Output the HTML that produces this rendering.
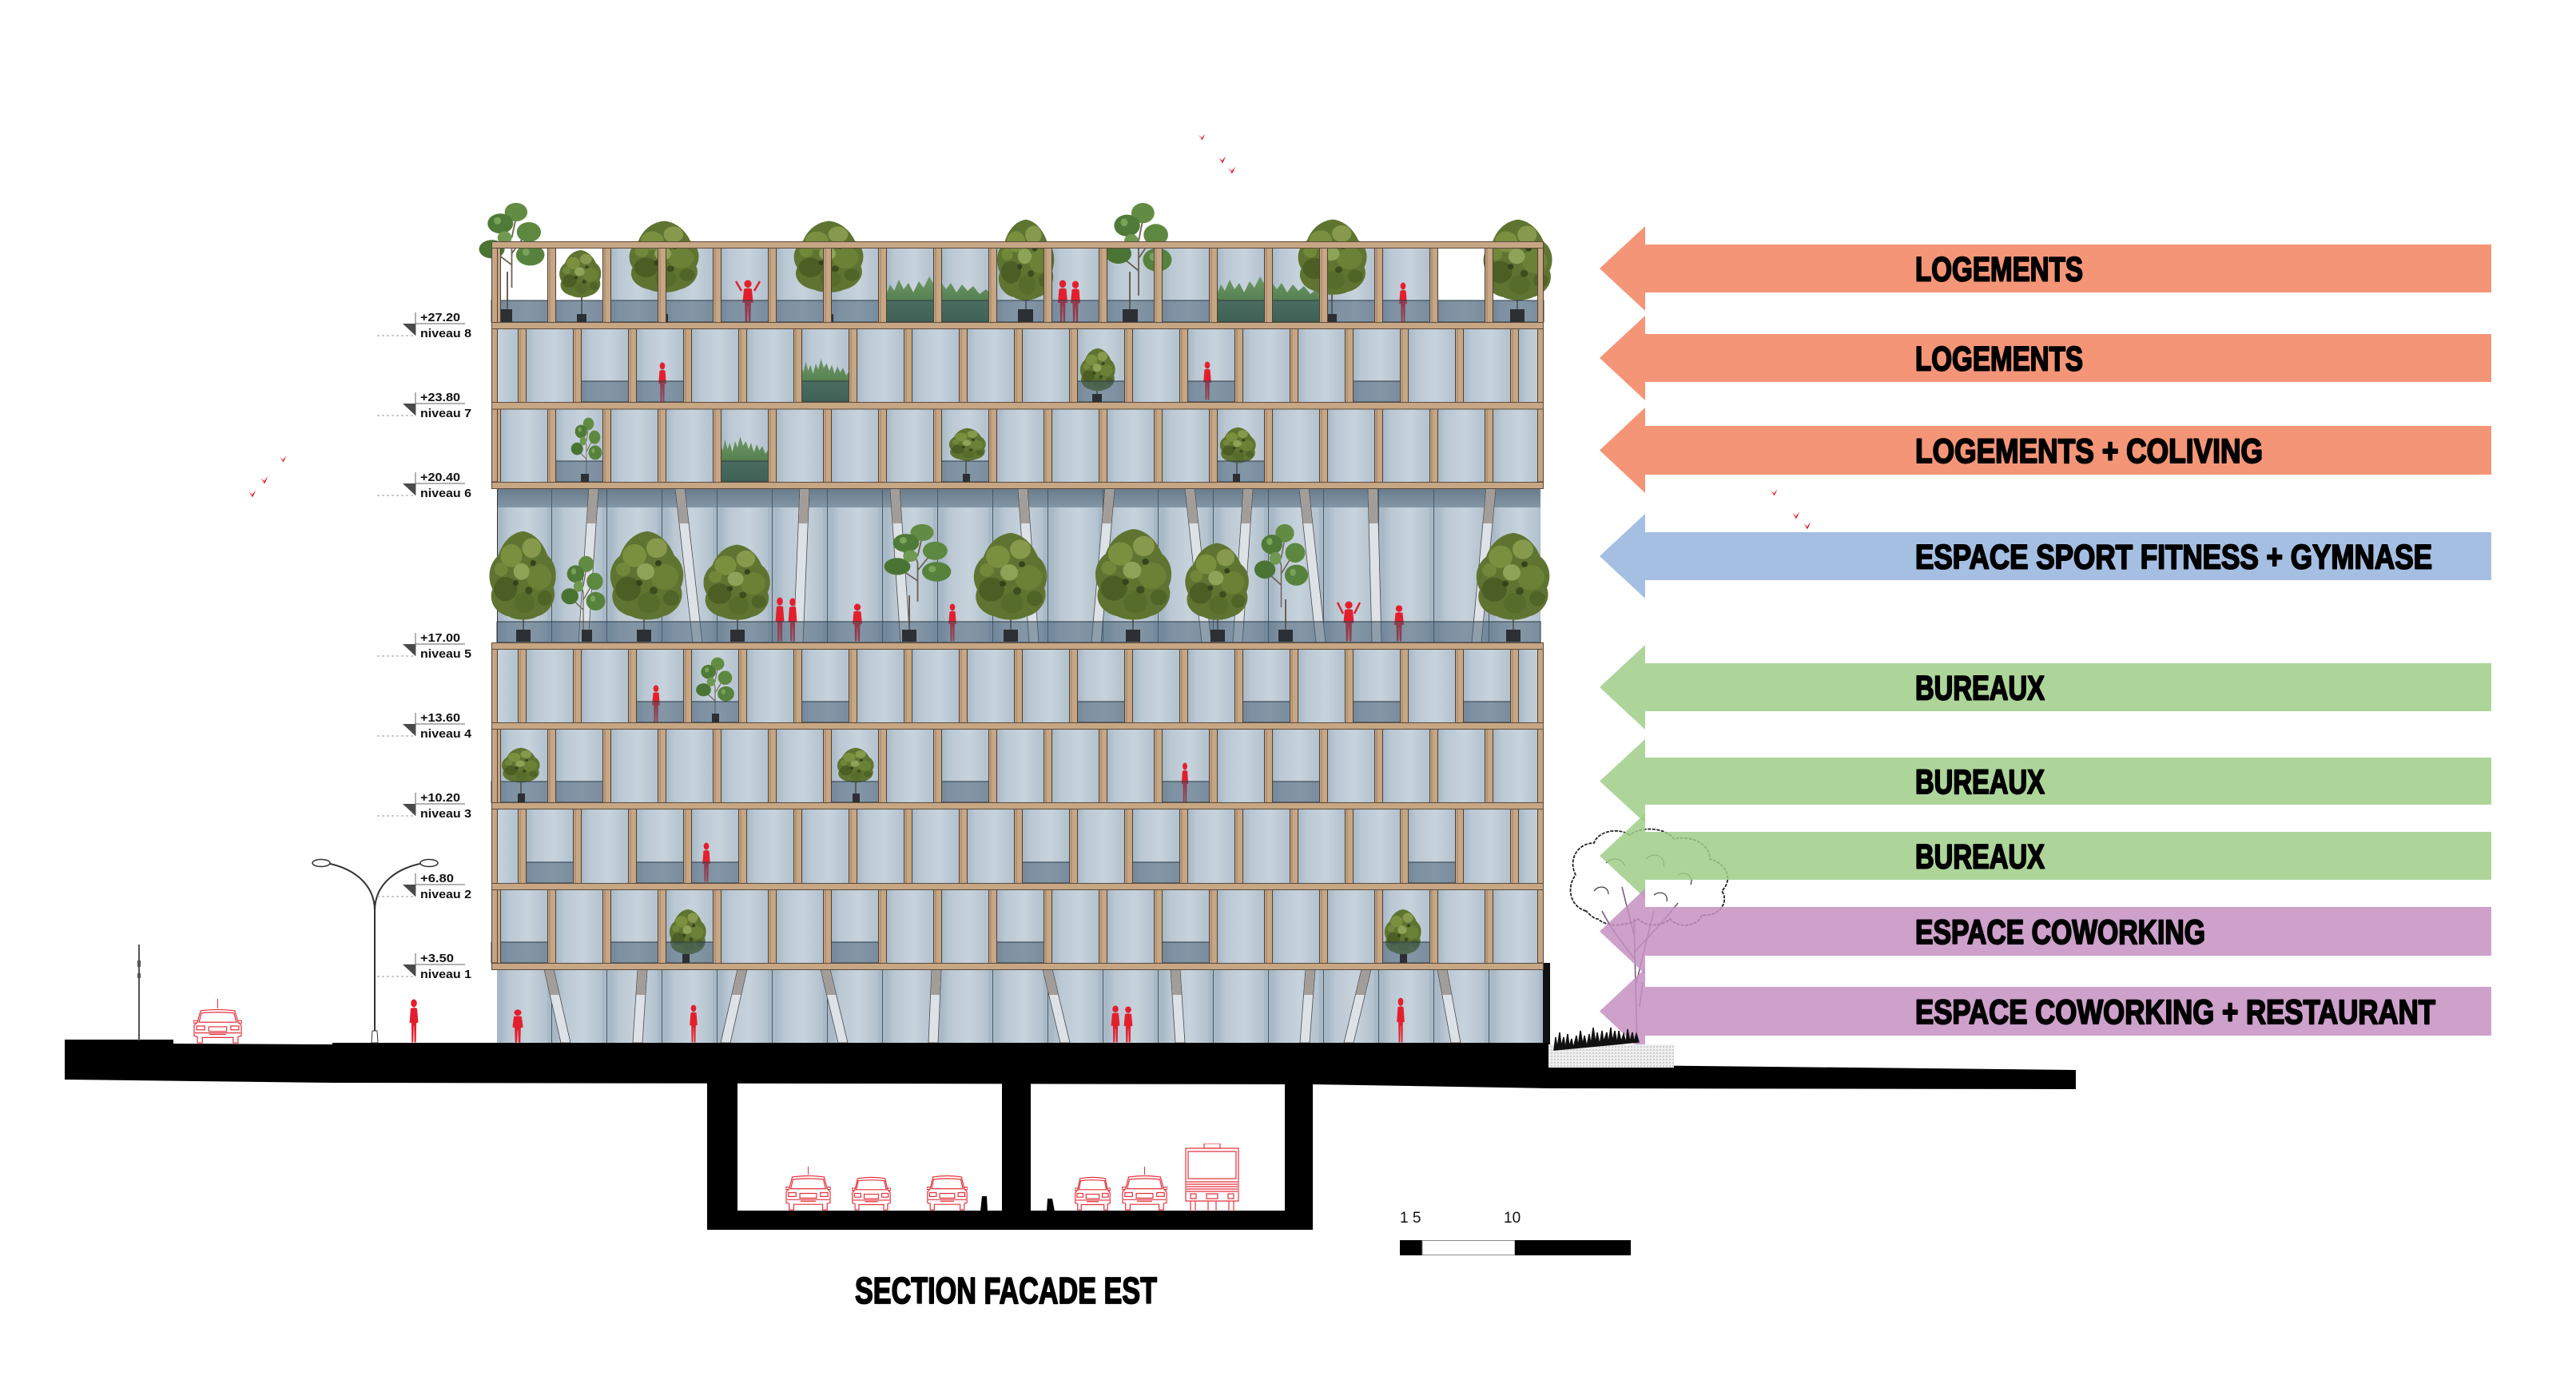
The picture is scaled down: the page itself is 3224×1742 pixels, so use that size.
<!DOCTYPE html>
<html><head><meta charset="utf-8"><style>
html,body{margin:0;padding:0;background:#fff;}
svg{display:block;}
.at{font-family:"Liberation Sans Narrow","Liberation Sans",sans-serif;font-weight:bold;font-size:43px;fill:#000;stroke:#000;stroke-width:2px;stroke-linejoin:round;}
.tt{font-family:"Liberation Sans Narrow","Liberation Sans",sans-serif;font-weight:bold;font-size:46px;fill:#000;stroke:#000;stroke-width:1.8px;stroke-linejoin:round;}
.lv{font-family:"Liberation Sans Narrow","Liberation Sans",sans-serif;font-weight:bold;font-size:15px;fill:#111;}
.sc{font-family:"Liberation Sans Narrow","Liberation Sans",sans-serif;font-size:19px;fill:#111;}
.ln{stroke:#666;stroke-width:1;fill:none;}
.dl{stroke:#9a9a9a;stroke-width:1;stroke-dasharray:3 3;fill:none;}
.rl{fill:#405a70;fill-opacity:.5;stroke:#2e3a44;stroke-width:1;}
.pot{fill:#2c2f33;}
.trk{stroke:#6b6053;stroke-width:2;fill:none;}
.slab{fill:#c7a684;stroke:#5a4a3c;stroke-width:1;}
.col{fill:#dde2e7;stroke:#4a4a4a;stroke-width:.8;}
.colt{fill:#a39d99;}
.car{fill:none;stroke:#e5323c;stroke-width:1.2;}
</style></head><body>
<svg width="3224" height="1742" viewBox="0 0 3224 1742" xmlns="http://www.w3.org/2000/svg">
<defs>
<linearGradient id="gg" x1="0" y1="0" x2="1" y2="0">
<stop offset=".16" stop-color="#a7b8c6"/><stop offset=".3" stop-color="#bac8d4"/><stop offset=".65" stop-color="#c7d3dc"/><stop offset="1" stop-color="#b2c1ce"/>
</linearGradient>
<linearGradient id="fo" x1="0" y1="0" x2="0" y2="1">
<stop offset="0" stop-color="#6f9a66"/><stop offset="1" stop-color="#3e683d"/>
</linearGradient>
<linearGradient id="band" x1="0" y1="0" x2="0" y2="1">
<stop offset="0" stop-color="#687b8b"/><stop offset="1" stop-color="#8396a5"/>
</linearGradient>
<pattern id="glA" patternUnits="userSpaceOnUse" x="685" y="0" width="69" height="1742"><rect width="69" height="1742" fill="url(#gg)"/></pattern>
<pattern id="glB" patternUnits="userSpaceOnUse" x="648" y="0" width="69" height="1742"><rect width="69" height="1742" fill="url(#gg)"/></pattern>
<pattern id="piA" patternUnits="userSpaceOnUse" x="685" y="0" width="69" height="1742">
<rect x="0" width="11" height="1742" fill="#c7a684"/><rect x=".5" width="10" height="1742" fill="none" stroke="#4f4136" stroke-width="1"/><line x1="3" x2="3" y1="0" y2="1742" stroke="#9a7f63" stroke-width="1"/>
</pattern>
<pattern id="piB" patternUnits="userSpaceOnUse" x="648" y="0" width="69" height="1742">
<rect x="0" width="11" height="1742" fill="#c7a684"/><rect x=".5" width="10" height="1742" fill="none" stroke="#4f4136" stroke-width="1"/><line x1="3" x2="3" y1="0" y2="1742" stroke="#9a7f63" stroke-width="1"/>
</pattern>
<pattern id="muA" patternUnits="userSpaceOnUse" x="685" y="0" width="69" height="1742"><line x1="5.5" x2="5.5" y1="0" y2="1742" stroke="#4d5963" stroke-width="1"/></pattern>
<pattern id="dots" patternUnits="userSpaceOnUse" width="4" height="4"><rect width="4" height="4" fill="#eeeeee"/><circle cx="2" cy="2" r=".7" fill="#999"/></pattern>
<symbol id="tr" viewBox="0 0 100 120" preserveAspectRatio="none">
<path d="M50,2 C66,4 78,18 84,34 C96,44 98,62 92,76 C98,92 86,110 70,114 C60,120 40,120 30,114 C12,110 2,94 8,78 C0,62 4,44 16,34 C22,16 34,4 50,2Z" fill="#5f7431"/>
<circle cx="34" cy="34" r="15" fill="#7b903f"/><circle cx="62" cy="24" r="13" fill="#87994c"/>
<circle cx="72" cy="62" r="17" fill="#6b8236"/><circle cx="26" cy="78" r="16" fill="#4b5f25"/>
<circle cx="52" cy="96" r="14" fill="#566c2a"/><circle cx="48" cy="55" r="11" fill="#8ea258"/>
<circle cx="80" cy="90" r="10" fill="#4f6427"/><circle cx="20" cy="52" r="9" fill="#71883a"/>
<circle cx="40" cy="70" r="4" fill="#34441a"/><circle cx="64" cy="44" r="4" fill="#34441a"/><circle cx="58" cy="80" r="5" fill="#3c4d1e"/>
</symbol>
<symbol id="tr2" viewBox="0 0 100 120" preserveAspectRatio="none">
<path d="M50,120 L50,60 L38,28 M50,72 L72,42 M50,88 L26,70 M50,50 L58,12" stroke="#6b6053" stroke-width="2" fill="none"/>
<ellipse cx="56" cy="14" rx="16" ry="13" fill="#628c44"/><ellipse cx="34" cy="30" rx="18" ry="14" fill="#4f7a37"/>
<ellipse cx="74" cy="42" rx="17" ry="14" fill="#5d8840"/><ellipse cx="22" cy="66" rx="18" ry="13" fill="#4a7434"/>
<ellipse cx="76" cy="74" rx="20" ry="15" fill="#57823d"/><ellipse cx="40" cy="50" rx="10" ry="9" fill="#6f9850"/>
<circle cx="30" cy="26" r="5" fill="#7aa35a"/><circle cx="70" cy="70" r="5" fill="#7aa35a"/>
</symbol>
<symbol id="pe" viewBox="0 0 20 50" preserveAspectRatio="none">
<ellipse cx="10" cy="5" rx="4.2" ry="4.5" fill="#e41f2d"/>
<path fill="#e41f2d" d="M5.5,11 Q10,9 14.5,11 L16,27 L13.5,27.5 L13,49.5 L10.8,49.5 L10.2,31 L9.8,31 L9.2,49.5 L7,49.5 L6.5,27.5 L4,27 Z"/>
</symbol>
<symbol id="fr" viewBox="0 0 138 58" preserveAspectRatio="none">
<path d="M0,58 V27 L6,21 L10,11 L15,19 L21,5 L27,17 L33,9 L39,21 L46,7 L52,15 L59,1 L66,13 L73,7 L80,17 L86,9 L93,21 L100,11 L107,19 L114,13 L122,23 L130,17 L138,25 V58 Z" fill="url(#fo)"/>
</symbol>
<symbol id="car" viewBox="0 0 60 46" preserveAspectRatio="none">
<g class="car">
<path vector-effect="non-scaling-stroke" d="M9,3 Q30,0 51,3 L55,18 L59,22 L59,36 L55,37 L55,45 L49,45 L49,38 L11,38 L11,45 L5,45 L5,37 L1,36 L1,22 L5,18 Z"/>
<path vector-effect="non-scaling-stroke" d="M10,6 Q30,4 50,6 L53,18 L7,18 Z"/>
<rect vector-effect="non-scaling-stroke" x="4" y="23" width="10" height="5"/><rect vector-effect="non-scaling-stroke" x="46" y="23" width="10" height="5"/>
<rect vector-effect="non-scaling-stroke" x="19" y="24" width="22" height="6"/>
<path vector-effect="non-scaling-stroke" d="M2,32 H58 M20,34 H40 M5,16 H0 V19 H5 M55,16 H60 V19 H55"/>
</g>
</symbol>
<symbol id="bus" viewBox="0 0 70 85" preserveAspectRatio="none">
<g class="car">
<rect vector-effect="non-scaling-stroke" x="2" y="6" width="66" height="66"/><rect vector-effect="non-scaling-stroke" x="25" y="0" width="20" height="6"/>
<rect vector-effect="non-scaling-stroke" x="5" y="10" width="60" height="34"/>
<path vector-effect="non-scaling-stroke" d="M3,48 H67 M3,51 H67 M3,54 H67 M3,57 H67 M3,60 H67 M8,72 V85 M14,72 V85 M56,72 V85 M62,72 V85 M30,72 V85 M40,72 V85"/>
<rect vector-effect="non-scaling-stroke" x="8" y="63" width="7" height="6"/><rect vector-effect="non-scaling-stroke" x="55" y="63" width="7" height="6"/><rect vector-effect="non-scaling-stroke" x="28" y="63" width="14" height="6"/>
</g>
</symbol>
<symbol id="bird" viewBox="0 0 12 10"><path d="M0,2 L5,6 L10,0 L7,7 L5,10 L4,7 Z" fill="#e3262f"/></symbol>
</defs>

<rect width="3224" height="1742" fill="#fff"/>

<!-- right sketch tree (behind arrows) -->
<g>
<path d="M2049,1316 C2048,1260 2046,1200 2045,1150 M2046,1200 C2030,1180 2015,1160 2005,1140 M2047,1190 C2065,1170 2085,1150 2100,1130 M2045,1170 C2040,1150 2035,1130 2030,1110 M2048,1230 L2060,1180 L2070,1140 M2052,1260 L2056,1230" stroke="#7a5a7a" stroke-width="1.6" fill="none"/>
<path d="M1985,1140 C1965,1135 1960,1110 1972,1095 C1962,1075 1975,1055 1995,1055 C2000,1040 2025,1035 2040,1045 C2055,1033 2085,1036 2095,1050 C2115,1045 2140,1055 2140,1075 C2160,1080 2170,1100 2155,1115 C2165,1130 2150,1148 2130,1145 C2125,1160 2100,1162 2090,1150 C2080,1160 2060,1160 2050,1150 C2035,1160 2010,1160 2000,1150 C1995,1150 1990,1145 1985,1140 Z" stroke="#222" stroke-width="1.8" stroke-dasharray="4 1.5" fill="none"/>
<path d="M2010,1080 c8,-8 20,-6 24,4 M2060,1075 c10,-10 25,-4 22,10 M2100,1095 c10,-6 20,2 16,12 M1995,1115 c6,-8 18,-6 18,4 M2070,1120 c8,-6 18,-2 16,8" stroke="#333" stroke-width="1.2" fill="none"/>
</g>

<!-- arrows -->
<g>
<polygon points="2002,336 2059,283 2059,306 3118,306 3118,366 2059,366 2059,389" fill="#f59577"/>
<polygon points="2002,448 2059,395 2059,418 3118,418 3118,478 2059,478 2059,501" fill="#f59577"/>
<polygon points="2002,563.5 2059,510 2059,533 3118,533 3118,594 2059,594 2059,617" fill="#f59577"/>
<polygon points="2002,696 2059,643 2059,666 3118,666 3118,726 2059,726 2059,749" fill="#a5bfe3"/>
<polygon points="2002,860 2059,807 2059,830 3118,830 3118,890 2059,890 2059,913" fill="#9fce88" fill-opacity=".85"/>
<polygon points="2002,977.5 2059,925 2059,948 3118,948 3118,1007 2059,1007 2059,1030" fill="#9fce88" fill-opacity=".85"/>
<polygon points="2002,1071 2059,1018 2059,1041 3118,1041 3118,1101 2059,1101 2059,1124" fill="#9fce88" fill-opacity=".85"/>
<polygon points="2002,1165.5 2059,1112 2059,1135 3118,1135 3118,1196 2059,1196 2059,1219" fill="#c690c2" fill-opacity=".85"/>
<polygon points="2002,1265.5 2059,1212 2059,1235 3118,1235 3118,1296 2059,1296 2059,1319" fill="#c690c2" fill-opacity=".85"/>
<text class="at" x="2397" y="351.5" textLength="210" lengthAdjust="spacingAndGlyphs">LOGEMENTS</text>
<text class="at" x="2397" y="463.5" textLength="210" lengthAdjust="spacingAndGlyphs">LOGEMENTS</text>
<text class="at" x="2397" y="579" textLength="435" lengthAdjust="spacingAndGlyphs">LOGEMENTS + COLIVING</text>
<text class="at" x="2397" y="711.5" textLength="647" lengthAdjust="spacingAndGlyphs">ESPACE SPORT FITNESS + GYMNASE</text>
<text class="at" x="2397" y="875.5" textLength="162" lengthAdjust="spacingAndGlyphs">BUREAUX</text>
<text class="at" x="2397" y="993" textLength="162" lengthAdjust="spacingAndGlyphs">BUREAUX</text>
<text class="at" x="2397" y="1086.5" textLength="162" lengthAdjust="spacingAndGlyphs">BUREAUX</text>
<text class="at" x="2397" y="1181" textLength="363" lengthAdjust="spacingAndGlyphs">ESPACE COWORKING</text>
<text class="at" x="2397" y="1281" textLength="651" lengthAdjust="spacingAndGlyphs">ESPACE COWORKING + RESTAURANT</text>
</g>

<!-- ===== BUILDING ===== -->
<rect x="615" y="310" width="1317" height="93" fill="url(#glA)"/>
<rect x="615" y="411" width="1317" height="92" fill="url(#glB)"/>
<rect x="615" y="512" width="1317" height="91" fill="url(#glA)"/>
<rect x="615" y="812" width="1317" height="92" fill="url(#glB)"/>
<rect x="615" y="912" width="1317" height="92" fill="url(#glA)"/>
<rect x="615" y="1012" width="1317" height="93" fill="url(#glB)"/>
<rect x="615" y="1113" width="1317" height="92" fill="url(#glA)"/>

<rect x="622" y="310" width="137" height="66" fill="#fff"/>
<rect x="1794" y="310" width="138" height="66" fill="#fff"/>
<use href="#fr" x="1104" y="345" width="138" height="58"/>
<use href="#fr" x="1518" y="345" width="138" height="58"/>
<use href="#fr" x="998" y="448" width="69" height="55"/>
<use href="#fr" x="897" y="545" width="69" height="58"/>

<!-- gym level -->
<rect x="622" y="611" width="1306" height="193" fill="url(#glA)"/>
<rect x="622" y="611" width="1306" height="24" fill="url(#band)"/>
<rect x="622" y="611" width="1306" height="193" fill="url(#muA)"/>
<line x1="622.5" y1="611" x2="622.5" y2="804" stroke="#333" stroke-width="1"/>
<g>
<polygon class="col" points="737,611 749,611 736,804 724,804"/><polygon class="colt" points="737.5,611.5 748.5,611.5 745.5,655 734.5,655"/>
<polygon class="col" points="845,611 857,611 879,804 867,804"/><polygon class="colt" points="845.5,611.5 856.5,611.5 861.5,655 850.5,655"/>
<polygon class="col" points="1001,611 1013,611 1005,804 993,804"/><polygon class="colt" points="1001.5,611.5 1012.5,611.5 1010.7,655 999.7,655"/>
<polygon class="col" points="1114,611 1126,611 1139,804 1127,804"/><polygon class="colt" points="1114.5,611.5 1125.5,611.5 1128.5,655 1117.5,655"/>
<polygon class="col" points="1274,611 1286,611 1300,804 1288,804"/><polygon class="colt" points="1274.5,611.5 1285.5,611.5 1288.7,655 1277.7,655"/>
<polygon class="col" points="1383,611 1395,611 1378,804 1366,804"/><polygon class="colt" points="1383.5,611.5 1394.5,611.5 1390.6,655 1379.6,655"/>
<polygon class="col" points="1483,611 1495,611 1516,804 1504,804"/><polygon class="colt" points="1483.5,611.5 1494.5,611.5 1499.3,655 1488.3,655"/>
<polygon class="col" points="1556,611 1568,611 1555,804 1543,804"/><polygon class="colt" points="1556.5,611.5 1567.5,611.5 1564.5,655 1553.5,655"/>
<polygon class="col" points="1626,611 1638,611 1659,804 1647,804"/><polygon class="colt" points="1626.5,611.5 1637.5,611.5 1642.3,655 1631.3,655"/>
<polygon class="col" points="1712,611 1724,611 1729,804 1717,804"/><polygon class="colt" points="1712.5,611.5 1723.5,611.5 1724.6,655 1713.6,655"/>
<polygon class="col" points="1860,611 1872,611 1854,804 1842,804"/><polygon class="colt" points="1860.5,611.5 1871.5,611.5 1867.4,655 1856.4,655"/>
</g>

<!-- ground floor -->
<rect x="622" y="1213" width="1309" height="92" fill="url(#glA)"/>
<rect x="622" y="1213" width="1309" height="92" fill="url(#muA)"/>
<g>
<polygon class="col" points="681,1213 693,1213 714,1305 702,1305"/><polygon class="colt" points="681.5,1213.5 692.5,1213.5 699.8,1245 688.8,1245"/>
<polygon class="col" points="798,1213 810,1213 804,1305 792,1305"/><polygon class="colt" points="798.5,1213.5 809.5,1213.5 807.4,1245 796.4,1245"/>
<polygon class="col" points="923,1213 935,1213 914,1305 902,1305"/><polygon class="colt" points="923.5,1213.5 934.5,1213.5 927.2,1245 916.2,1245"/>
<polygon class="col" points="1027,1213 1039,1213 1061,1305 1049,1305"/><polygon class="colt" points="1027.5,1213.5 1038.5,1213.5 1046.2,1245 1035.2,1245"/>
<polygon class="col" points="1166,1213 1178,1213 1174,1305 1162,1305"/><polygon class="colt" points="1166.5,1213.5 1177.5,1213.5 1176.1,1245 1165.1,1245"/>
<polygon class="col" points="1305,1213 1317,1213 1339,1305 1327,1305"/><polygon class="colt" points="1305.5,1213.5 1316.5,1213.5 1324.2,1245 1313.2,1245"/>
<polygon class="col" points="1465,1213 1477,1213 1483,1305 1471,1305"/><polygon class="colt" points="1465.5,1213.5 1476.5,1213.5 1478.6,1245 1467.6,1245"/>
<polygon class="col" points="1634,1213 1646,1213 1639,1305 1627,1305"/><polygon class="colt" points="1634.5,1213.5 1645.5,1213.5 1643.1,1245 1632.1,1245"/>
<polygon class="col" points="1704,1213 1716,1213 1694,1305 1682,1305"/><polygon class="colt" points="1704.5,1213.5 1715.5,1213.5 1707.8,1245 1696.8,1245"/>
<polygon class="col" points="1799,1213 1811,1213 1828,1305 1816,1305"/><polygon class="colt" points="1799.5,1213.5 1810.5,1213.5 1816.4,1245 1805.4,1245"/>
</g>
<rect x="1931" y="1205" width="9" height="100" fill="#111"/>

<!-- trees -->
<g>
<line class="trk" x1="635" y1="340" x2="635" y2="395"/>
<use href="#tr2" x="596" y="253" width="89" height="107"/>
<line class="trk" x1="728" y1="365" x2="728" y2="396"/><use href="#tr" x="698" y="312" width="57" height="61"/>
<line class="trk" x1="830" y1="360" x2="830" y2="396"/><use href="#tr" x="784" y="275" width="95" height="92"/>
<line class="trk" x1="1037" y1="360" x2="1037" y2="396"/><use href="#tr" x="990" y="275" width="95" height="92"/>
<line class="trk" x1="1284" y1="370" x2="1284" y2="390"/><use href="#tr" x="1245" y="273" width="78" height="104"/>
<line class="trk" x1="1414" y1="340" x2="1414" y2="390"/><use href="#tr2" x="1380" y="253" width="90" height="117"/>
<line class="trk" x1="1667" y1="360" x2="1667" y2="396"/><use href="#tr" x="1621" y="273" width="94" height="97"/>
<line class="trk" x1="1899" y1="370" x2="1899" y2="390"/><use href="#tr" x="1853" y="273" width="94" height="104"/>
<line class="trk" x1="1373" y1="485" x2="1373" y2="495"/><use href="#tr" x="1350" y="435" width="48" height="55"/>
<use href="#tr2" x="713" y="522" width="42" height="72"/>
<line class="trk" x1="1209" y1="575" x2="1209" y2="595"/><use href="#tr" x="1186" y="535" width="50" height="42"/>
<line class="trk" x1="1548" y1="578" x2="1548" y2="595"/><use href="#tr" x="1525" y="534" width="49" height="46"/>
<use href="#tr2" x="869" y="822" width="52" height="75"/>
<line class="trk" x1="652" y1="978" x2="652" y2="995"/><use href="#tr" x="626" y="935" width="52" height="45"/>
<line class="trk" x1="1071" y1="978" x2="1071" y2="995"/><use href="#tr" x="1046" y="935" width="50" height="45"/>
<line class="trk" x1="858" y1="1190" x2="858" y2="1196"/><use href="#tr" x="836" y="1137" width="50" height="58"/>
<line class="trk" x1="1756" y1="1190" x2="1756" y2="1196"/><use href="#tr" x="1731" y="1137" width="50" height="58"/>
<line class="trk" x1="655" y1="770" x2="655" y2="790"/><use href="#tr" x="609" y="663" width="91" height="114"/>
<use href="#tr2" x="700" y="695" width="60" height="93"/>
<line class="trk" x1="806" y1="770" x2="806" y2="790"/><use href="#tr" x="760" y="663" width="100" height="114"/>
<line class="trk" x1="923" y1="770" x2="923" y2="790"/><use href="#tr" x="877" y="680" width="91" height="97"/>
<line class="trk" x1="1138" y1="745" x2="1138" y2="790"/><use href="#tr2" x="1103" y="655" width="91" height="98"/>
<line class="trk" x1="1265" y1="770" x2="1265" y2="790"/><use href="#tr" x="1215" y="665" width="100" height="112"/>
<line class="trk" x1="1418" y1="770" x2="1418" y2="790"/><use href="#tr" x="1367" y="660" width="104" height="117"/>
<line class="trk" x1="1524" y1="770" x2="1524" y2="790"/><use href="#tr" x="1480" y="678" width="87" height="99"/>
<line class="trk" x1="1609" y1="750" x2="1609" y2="790"/><use href="#tr2" x="1567" y="655" width="73" height="105"/>
<line class="trk" x1="1894" y1="770" x2="1894" y2="790"/><use href="#tr" x="1844" y="665" width="100" height="112"/>
</g>

<!-- people in building -->
<g>
<use href="#pe" x="925" y="350" width="22" height="53"/>
<path d="M928,364 L921,352 M944,364 L951,352" stroke="#e41f2d" stroke-width="2.5"/>
<use href="#pe" x="1320" y="350" width="20" height="53"/><use href="#pe" x="1336" y="351" width="20" height="52"/>
<use href="#pe" x="1748" y="353" width="16" height="50"/>
<use href="#pe" x="821" y="453" width="16" height="50"/>
<use href="#pe" x="1503" y="452" width="16" height="49"/>
<use href="#pe" x="967" y="747" width="18" height="56"/><use href="#pe" x="983" y="748" width="18" height="55"/>
<use href="#pe" x="1063" y="755" width="20" height="48"/>
<use href="#pe" x="1184" y="755" width="16" height="48"/>
<use href="#pe" x="1677" y="752" width="22" height="51"/>
<path d="M1681,768 L1674,754 M1695,768 L1702,754" stroke="#e41f2d" stroke-width="2.5"/>
<use href="#pe" x="1741" y="757" width="20" height="46"/>
<use href="#pe" x="813" y="857" width="16" height="47"/>
<use href="#pe" x="1476" y="954" width="14" height="50"/>
<use href="#pe" x="876" y="1054" width="16" height="50"/>
</g>

<!-- rails -->
<g>
<rect class="rl" x="615" y="376" width="1317" height="27"/>
<rect class="rl" x="722" y="477" width="138" height="26"/><rect class="rl" x="998" y="477" width="69" height="26"/><rect class="rl" x="1343" y="477" width="69" height="26"/><rect class="rl" x="1481" y="477" width="69" height="26"/><rect class="rl" x="1688" y="477" width="69" height="26"/>
<rect class="rl" x="690" y="577" width="69" height="26"/><rect class="rl" x="897" y="577" width="69" height="26"/><rect class="rl" x="1173" y="577" width="69" height="26"/><rect class="rl" x="1518" y="577" width="69" height="26"/>
<rect class="rl" x="622" y="778" width="1306" height="26"/>
<rect class="rl" x="791" y="878" width="138" height="26"/><rect class="rl" x="998" y="878" width="69" height="26"/><rect class="rl" x="1343" y="878" width="69" height="26"/><rect class="rl" x="1550" y="878" width="69" height="26"/><rect class="rl" x="1688" y="878" width="69" height="26"/><rect class="rl" x="1826" y="878" width="69" height="26"/>
<rect class="rl" x="615" y="978" width="144" height="26"/><rect class="rl" x="1035" y="978" width="69" height="26"/><rect class="rl" x="1173" y="978" width="69" height="26"/><rect class="rl" x="1449" y="978" width="69" height="26"/><rect class="rl" x="1587" y="978" width="69" height="26"/>
<rect class="rl" x="653" y="1079" width="69" height="26"/><rect class="rl" x="791" y="1079" width="138" height="26"/><rect class="rl" x="1274" y="1079" width="69" height="26"/><rect class="rl" x="1412" y="1079" width="69" height="26"/><rect class="rl" x="1757" y="1079" width="69" height="26"/>
<rect class="rl" x="615" y="1179" width="75" height="26"/><rect class="rl" x="759" y="1179" width="138" height="26"/><rect class="rl" x="1035" y="1179" width="69" height="26"/><rect class="rl" x="1242" y="1179" width="69" height="26"/><rect class="rl" x="1449" y="1179" width="69" height="26"/><rect class="rl" x="1725" y="1179" width="69" height="26"/>
</g>

<!-- pots -->
<g>
<rect class="pot" x="622" y="387" width="19" height="16"/><rect class="pot" x="722" y="393" width="12" height="10"/><rect class="pot" x="825" y="393" width="11" height="10"/><rect class="pot" x="1032" y="393" width="11" height="10"/><rect class="pot" x="1274" y="387" width="19" height="16"/><rect class="pot" x="1405" y="387" width="19" height="16"/><rect class="pot" x="1661" y="393" width="12" height="10"/><rect class="pot" x="1890" y="387" width="18" height="16"/>
<rect class="pot" x="1367" y="493" width="12" height="10"/>
<rect class="pot" x="727" y="593" width="10" height="10"/><rect class="pot" x="1205" y="593" width="9" height="10"/><rect class="pot" x="1543" y="593" width="9" height="10"/>
<rect class="pot" x="646" y="788" width="18" height="15"/><rect class="pot" x="728" y="788" width="13" height="15"/><rect class="pot" x="797" y="788" width="18" height="15"/><rect class="pot" x="914" y="788" width="18" height="15"/><rect class="pot" x="1129" y="788" width="18" height="15"/><rect class="pot" x="1256" y="788" width="18" height="15"/><rect class="pot" x="1409" y="788" width="18" height="15"/><rect class="pot" x="1515" y="788" width="18" height="15"/><rect class="pot" x="1600" y="788" width="18" height="15"/><rect class="pot" x="1885" y="788" width="18" height="15"/>
<rect class="pot" x="891" y="893" width="9" height="11"/>
<rect class="pot" x="648" y="993" width="9" height="11"/><rect class="pot" x="1067" y="993" width="9" height="11"/>
<rect class="pot" x="854" y="1194" width="9" height="11"/><rect class="pot" x="1752" y="1194" width="9" height="11"/>
</g>

<!-- pillars -->
<rect x="615" y="310" width="1317" height="93" fill="url(#piA)"/>
<rect x="615" y="411" width="1317" height="92" fill="url(#piB)"/>
<rect x="615" y="512" width="1317" height="91" fill="url(#piA)"/>
<rect x="615" y="812" width="1317" height="92" fill="url(#piB)"/>
<rect x="615" y="912" width="1317" height="92" fill="url(#piA)"/>
<rect x="615" y="1012" width="1317" height="93" fill="url(#piB)"/>
<rect x="615" y="1113" width="1317" height="92" fill="url(#piA)"/>
<g fill="#c7a684" stroke="#4f4136" stroke-width="1">
<rect x="615.5" y="310" width="7" height="293"/><rect x="1924.5" y="310" width="7" height="293"/>
<rect x="615.5" y="812" width="7" height="393"/><rect x="1924.5" y="812" width="7" height="393"/>
</g>
<!-- slabs -->
<g>
<rect class="slab" x="615.5" y="302.5" width="1316" height="8"/>
<rect class="slab" x="615.5" y="403.5" width="1316" height="8"/>
<rect class="slab" x="615.5" y="503.5" width="1316" height="8.5"/>
<rect class="slab" x="615.5" y="603.5" width="1316" height="8"/>
<rect class="slab" x="615.5" y="804.5" width="1316" height="8"/>
<rect class="slab" x="615.5" y="904.5" width="1316" height="8"/>
<rect class="slab" x="615.5" y="1004.5" width="1316" height="8"/>
<rect class="slab" x="615.5" y="1105.5" width="1316" height="8"/>
<rect class="slab" x="615.5" y="1205.5" width="1316" height="8"/>
</g>

<!-- ground floor people -->
<g>
<use href="#pe" x="637" y="1263" width="22" height="42"/>
<use href="#pe" x="860" y="1257" width="16" height="48"/>
<use href="#pe" x="1387" y="1258" width="18" height="47"/><use href="#pe" x="1403" y="1259" width="18" height="46"/>
<use href="#pe" x="1745" y="1248" width="16" height="57"/>
<use href="#pe" x="509" y="1250" width="18" height="55"/>
</g>

<!-- ground -->
<path d="M81,1301 L217,1301 L217,1306 L416,1307 L416,1305 L1940,1305 L1940,1332 L2598,1339 L2598,1363 L1940,1362 L1643,1357 L416,1355 L81,1351 Z" fill="#000"/>
<rect x="1938" y="1307" width="157" height="29" fill="url(#dots)"/>
<path d="M1945,1314 l2,-16 l2,14 l3,-20 l2,18 l3,-12 l2,14 l3,-18 l2,16 l3,-10 l2,12 l4,-16 l2,14 l3,-20 l3,18 l2,-12 l3,14 l3,-16 l2,14 l3,-22 l3,20 l2,-14 l3,16 l3,-18 l2,14 l4,-12 l2,14 l3,-20 l2,18 l3,-14 l3,16 l2,-16 l3,14 l3,-10 l3,12 l2,-18 l3,16 l3,-12 l2,12 l3,-10 l3,10 Z" fill="#111" stroke="#111" stroke-width="1.5"/>

<!-- underground -->
<g fill="#000">
<rect x="885" y="1352" width="38" height="187"/>
<rect x="1254" y="1352" width="36" height="165"/>
<rect x="1608" y="1352" width="35" height="187"/>
<rect x="885" y="1515" width="758" height="24"/>
<polygon points="1227,1516 1229,1497 1235,1497 1236,1516"/>
<polygon points="1310,1516 1311,1500 1317,1500 1320,1516"/>
</g>
<use href="#car" x="983" y="1470" width="57" height="45"/><line x1="1011.5" y1="1460" x2="1011.5" y2="1470" stroke="#e5323c"/>
<use href="#car" x="1066" y="1472" width="49" height="43"/>
<use href="#car" x="1160" y="1470" width="51" height="45"/>
<use href="#car" x="1345" y="1472" width="45" height="43"/>
<use href="#car" x="1404" y="1470" width="57" height="45"/><line x1="1432.5" y1="1460" x2="1432.5" y2="1470" stroke="#e5323c"/>
<use href="#bus" x="1482" y="1431" width="70" height="85"/>

<!-- street -->
<use href="#car" x="242" y="1262" width="61" height="44"/><line x1="272.5" y1="1250" x2="272.5" y2="1262" stroke="#e5323c"/>
<line x1="174" y1="1182" x2="174" y2="1302" stroke="#555" stroke-width="2"/>
<rect x="172" y="1202" width="4" height="8" fill="#555"/><rect x="172" y="1218" width="4" height="6" fill="#555"/>
<path d="M469,1302 L469,1140 C469,1105 440,1084 402,1079 M469,1140 C469,1105 498,1084 537,1079" stroke="#333" stroke-width="2" fill="none"/>
<ellipse cx="402" cy="1080" rx="11" ry="4.5" fill="#fff" stroke="#333" stroke-width="1.5"/>
<ellipse cx="537" cy="1080" rx="11" ry="4.5" fill="#fff" stroke="#333" stroke-width="1.5"/>
<path d="M465,1305 L466,1290 L472,1290 L473,1305 Z" fill="#fff" stroke="#333" stroke-width="1"/>

<!-- level labels -->
<g transform="translate(0,403)"><text class="lv" x="526" y="-1" textLength="50" lengthAdjust="spacingAndGlyphs">+27.20</text><text class="lv" x="526" y="19" textLength="64" lengthAdjust="spacingAndGlyphs">niveau 8</text><path class="ln" d="M520,-12V17M520,2H582"/><path d="M504,2H520V17Z" fill="#4a4a4a"/><path class="dl" d="M472,17H520"/></g>
<g transform="translate(0,503)"><text class="lv" x="526" y="-1" textLength="50" lengthAdjust="spacingAndGlyphs">+23.80</text><text class="lv" x="526" y="19" textLength="64" lengthAdjust="spacingAndGlyphs">niveau 7</text><path class="ln" d="M520,-12V17M520,2H582"/><path d="M504,2H520V17Z" fill="#4a4a4a"/><path class="dl" d="M472,17H520"/></g>
<g transform="translate(0,603)"><text class="lv" x="526" y="-1" textLength="50" lengthAdjust="spacingAndGlyphs">+20.40</text><text class="lv" x="526" y="19" textLength="64" lengthAdjust="spacingAndGlyphs">niveau 6</text><path class="ln" d="M520,-12V17M520,2H582"/><path d="M504,2H520V17Z" fill="#4a4a4a"/><path class="dl" d="M472,17H520"/></g>
<g transform="translate(0,804)"><text class="lv" x="526" y="-1" textLength="50" lengthAdjust="spacingAndGlyphs">+17.00</text><text class="lv" x="526" y="19" textLength="64" lengthAdjust="spacingAndGlyphs">niveau 5</text><path class="ln" d="M520,-12V17M520,2H582"/><path d="M504,2H520V17Z" fill="#4a4a4a"/><path class="dl" d="M472,17H520"/></g>
<g transform="translate(0,904)"><text class="lv" x="526" y="-1" textLength="50" lengthAdjust="spacingAndGlyphs">+13.60</text><text class="lv" x="526" y="19" textLength="64" lengthAdjust="spacingAndGlyphs">niveau 4</text><path class="ln" d="M520,-12V17M520,2H582"/><path d="M504,2H520V17Z" fill="#4a4a4a"/><path class="dl" d="M472,17H520"/></g>
<g transform="translate(0,1004)"><text class="lv" x="526" y="-1" textLength="50" lengthAdjust="spacingAndGlyphs">+10.20</text><text class="lv" x="526" y="19" textLength="64" lengthAdjust="spacingAndGlyphs">niveau 3</text><path class="ln" d="M520,-12V17M520,2H582"/><path d="M504,2H520V17Z" fill="#4a4a4a"/><path class="dl" d="M472,17H520"/></g>
<g transform="translate(0,1105)"><text class="lv" x="526" y="-1" textLength="42" lengthAdjust="spacingAndGlyphs">+6.80</text><text class="lv" x="526" y="19" textLength="64" lengthAdjust="spacingAndGlyphs">niveau 2</text><path class="ln" d="M520,-12V17M520,2H582"/><path d="M504,2H520V17Z" fill="#4a4a4a"/><path class="dl" d="M472,17H520"/></g>
<g transform="translate(0,1205)"><text class="lv" x="526" y="-1" textLength="42" lengthAdjust="spacingAndGlyphs">+3.50</text><text class="lv" x="526" y="19" textLength="64" lengthAdjust="spacingAndGlyphs">niveau 1</text><path class="ln" d="M520,-12V17M520,2H582"/><path d="M504,2H520V17Z" fill="#4a4a4a"/><path class="dl" d="M472,17H520"/></g>

<!-- birds -->
<use href="#bird" x="1500" y="167" width="10" height="9"/>
<use href="#bird" x="1525" y="195" width="11" height="10"/>
<use href="#bird" x="1537" y="208" width="11" height="10"/>
<use href="#bird" x="350" y="570" width="10" height="9"/>
<use href="#bird" x="326" y="596" width="11" height="10"/>
<use href="#bird" x="311" y="613" width="11" height="10"/>
<use href="#bird" x="2216" y="612" width="10" height="9"/>
<use href="#bird" x="2243" y="640" width="11" height="10"/>
<use href="#bird" x="2257" y="653" width="11" height="10"/>

<!-- scale bar -->
<text class="sc" x="1752" y="1530">1 5</text>
<text class="sc" x="1882" y="1530">10</text>
<rect x="1752" y="1552" width="28" height="19" fill="#000"/>
<rect x="1780" y="1552.5" width="116" height="18" fill="#fff" stroke="#888" stroke-width="1"/>
<rect x="1896" y="1552" width="145" height="19" fill="#000"/>

<!-- title -->
<text class="tt" x="1070" y="1631" textLength="378" lengthAdjust="spacingAndGlyphs">SECTION FACADE EST</text>
</svg>
</body></html>
